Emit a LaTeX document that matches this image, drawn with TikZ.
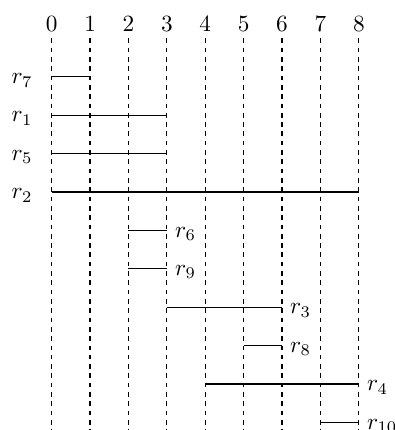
\documentclass[tikz,border=0pt]{standalone}
\begin{document}
\begin{tikzpicture}[x=16.5pt,y=16.5pt,
  gridline/.style={dash pattern=on 2pt off 2pt, line width=0.5pt},
  seg/.style={line width=0.5pt},
  lab/.style={inner sep=3.33pt},
  rlab/.style={inner sep=3.33pt, yshift=-1.5pt}]
\useasboundingbox (-1.346,-9.2) rectangle (8.94,2.0);
\foreach \i in {0,...,8} {
  \node[lab] (n\i) at (\i,1.38) {$\i$};
  \coordinate (t\i) at (\i,1);
  \coordinate (b\i) at (\i,-9.6);
  \draw[gridline] (t\i) -- (b\i);
}
\foreach \k/\s/\e/\y in {7/0/1/0, 1/0/3/-1, 5/0/3/-2, 2/0/8/-3} {
  \coordinate (s\k) at (\s,\y);
  \coordinate (e\k) at (\e,\y);
  \draw[seg] (s\k) -- (e\k);
  \node[rlab] (l\k) at (-0.77,\y) {$r_{\k}$};
}
\foreach \k/\s/\e/\y in {6/2/3/-4, 9/2/3/-5, 3/3/6/-6, 8/5/6/-7, 4/4/8/-8, 10/7/8/-9} {
  \coordinate (s\k) at (\s,\y);
  \coordinate (e\k) at (\e,\y);
  \draw[seg] (s\k) -- (e\k);
  \node[rlab,anchor=west] (l\k) at (e\k) {$r_{\k}$};
}
\end{tikzpicture}
\end{document}
